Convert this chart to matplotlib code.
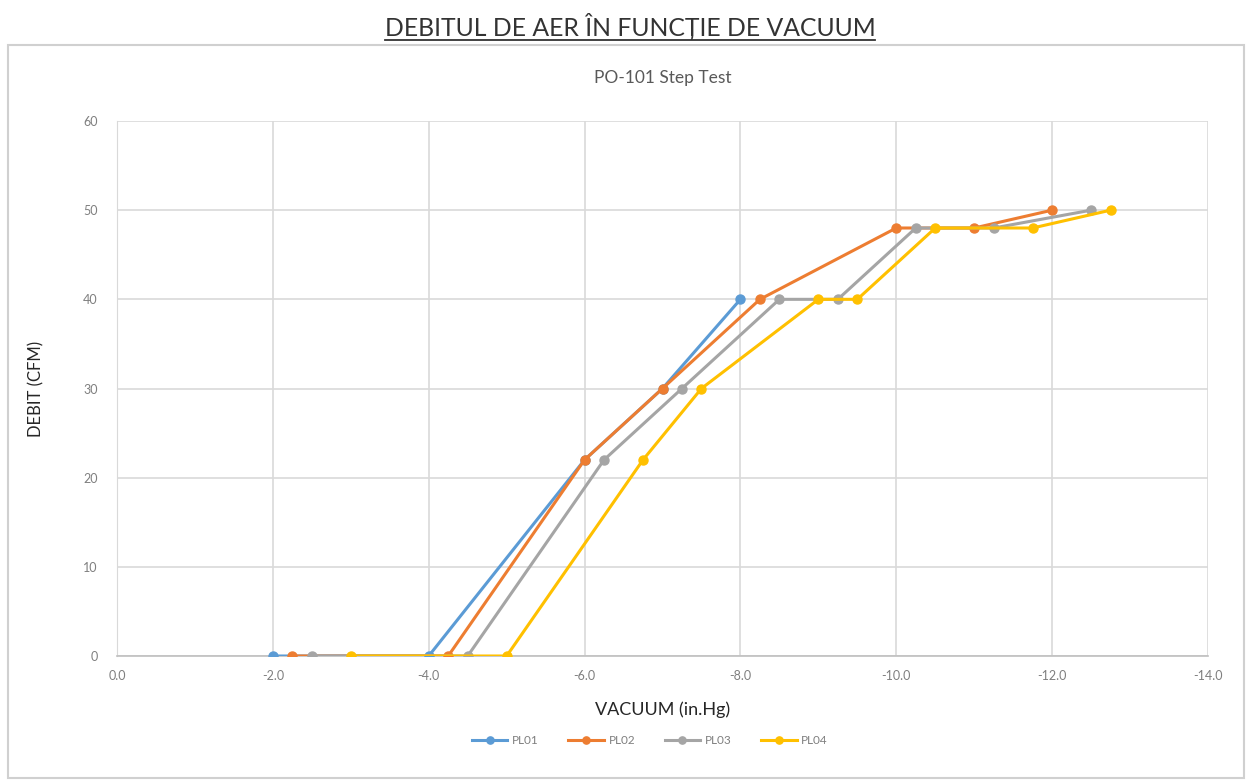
import matplotlib
matplotlib.use("Agg")
import matplotlib.pyplot as plt
from matplotlib.patches import Rectangle
from matplotlib.lines import Line2D

plt.rcParams['font.family'] = ['Lato', 'DejaVu Sans']

# Data
series_names = ["PL01", "PL02", "PL03", "PL04"]
pl01_x = [-2.0, -4.0, -6.0, -7.0, -8.0]
pl01_y = [0, 0, 22, 30, 40]
pl02_x = [-2.25, -4.25, -6.0, -7.0, -8.25, -10.0, -11.0, -12.0]
pl02_y = [0, 0, 22, 30, 40, 48, 48, 50]
pl03_x = [-2.5, -4.5, -6.25, -7.25, -8.5, -9.25, -10.25, -11.25, -12.5]
pl03_y = [0, 0, 22, 30, 40, 40, 48, 48, 50]
pl04_x = [-3.0, -5.0, -6.75, -7.5, -9.0, -9.5, -10.5, -11.75, -12.75]
pl04_y = [0, 0, 22, 30, 40, 40, 48, 48, 50]
x_ticks = [0, -2, -4, -6, -8, -10, -12, -14]
y_ticks = [0, 10, 20, 30, 40, 50, 60]

colors = ["#5B9BD5", "#ED7D31", "#A5A5A5", "#FFC000"]

fig = plt.figure(figsize=(12.51, 7.81), dpi=100)

# outer chart border
fig.patches.append(Rectangle((8/1251, 1 - 778/781), 1236/1251, (778-45)/781,
                             transform=fig.transFigure, fill=False,
                             edgecolor="#d0d0d0", linewidth=1.5))

ax = fig.add_axes([117/1251, 1 - 656/781, (1208-117)/1251, (656-121)/781])

data = [(pl01_x, pl01_y), (pl02_x, pl02_y), (pl03_x, pl03_y), (pl04_x, pl04_y)]
for (xs, ys), name, c in zip(data, series_names, colors):
    ax.plot(xs, ys, color=c, linewidth=2.2, marker='o', markersize=6.5,
            label=name, zorder=3)

ax.set_xlim(0, -14)
ax.set_ylim(0, 60)
ax.set_xticks(x_ticks)
ax.set_xticklabels([f"{v:.1f}" for v in x_ticks])
ax.set_yticks(y_ticks)
ax.tick_params(length=0, labelsize=9, labelcolor="#7f7f7f")
ax.tick_params(axis='x', pad=10)
ax.tick_params(axis='y', pad=14)
ax.grid(True, color="#d9d9d9", linewidth=1.2, zorder=0)
for s in ["top", "right"]:
    ax.spines[s].set_visible(False)
ax.spines["left"].set_color("#d9d9d9")
ax.spines["bottom"].set_color("#bfbfbf")
ax.spines["bottom"].set_linewidth(1.2)
ax.set_axisbelow(True)

ax.set_ylabel("DEBIT (CFM)", fontsize=12, color="#262626", labelpad=28)
ax.set_xlabel("VACUUM (in.Hg)", fontsize=13, color="#262626", labelpad=14)

fig.text(663/1251, 1 - 78/781, "PO-101 Step Test", ha="center", va="center",
         fontsize=12.5, color="#595959")

title_y = 1 - 27/781
fig.text(630/1251, title_y, "DEBITUL DE AER ÎN FUNCȚIE DE VACUUM",
         ha="center", va="center", fontsize=17.8, color="#333333",
         family=['Lato', 'DejaVu Sans'])
fig.add_artist(Line2D([385/1251, 875/1251], [1 - 40/781, 1 - 40/781],
                      transform=fig.transFigure, color="#333333", linewidth=1.3))

fig.legend(loc="center", bbox_to_anchor=(650/1251, 1 - 741/781), ncol=4,
           frameon=False, fontsize=8.5, labelcolor="#7f7f7f", markerscale=0.8,
           handlelength=3, columnspacing=2.5, handletextpad=0.4)

fig.savefig("out.png", dpi=100)
